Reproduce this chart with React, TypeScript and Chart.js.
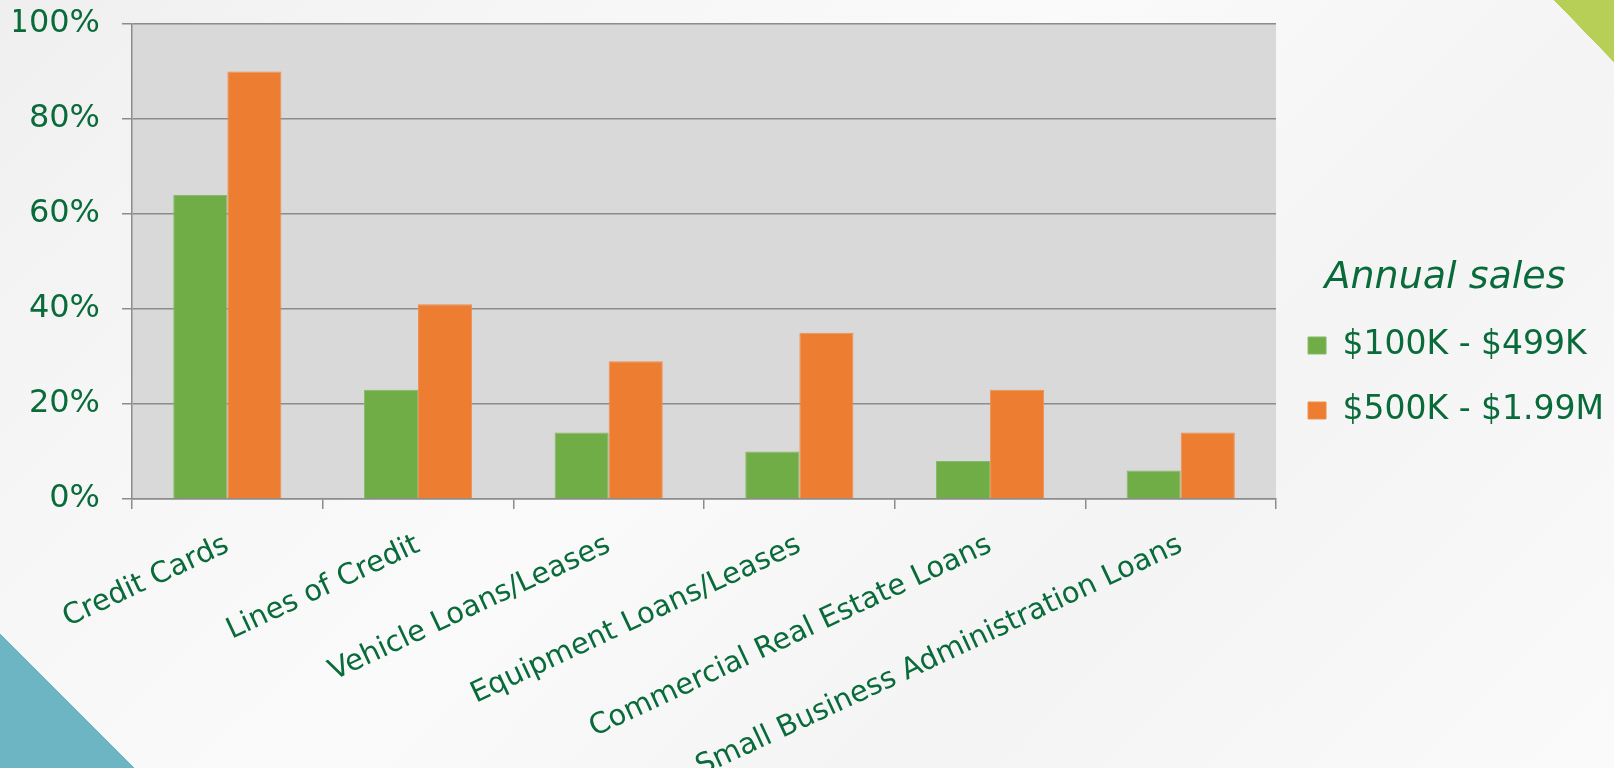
import React, { useEffect, useRef } from "react";
import { Chart, registerables } from "chart.js";

Chart.register(...registerables);

const categories = [
  "Credit Cards",
  "Lines of Credit",
  "Vehicle Loans/Leases",
  "Equipment Loans/Leases",
  "Commercial Real Estate Loans",
  "Small Business Administration Loans",
];
const seriesNames = ["$100K - $499K", "$500K - $1.99M"];
const smallSales = [64, 23, 14, 10, 8, 6];
const largeSales = [90, 41, 29, 35, 23, 14];
const yTicks = [0, 20, 40, 60, 80, 100];
const legendTitle = "Annual sales";

const TEXT = "#0a6b3a";
const GRID = "#8c8c8c";
const FONT = "'DejaVu Sans', Verdana, sans-serif";

const plotBg = {
  id: "plotBg",
  beforeDraw(chart: any) {
    const { ctx, chartArea } = chart;
    if (!chartArea) return;
    ctx.save();
    ctx.fillStyle = "#d9d9d9";
    ctx.fillRect(chartArea.left, chartArea.top, chartArea.right - chartArea.left, chartArea.bottom - chartArea.top);
    ctx.restore();
  },
};

export default function App() {
  const ref = useRef<HTMLCanvasElement | null>(null);
  useEffect(() => {
    document.body.style.margin = "0";
    const canvas = ref.current;
    if (!canvas) return;
    const chart = new Chart(canvas, {
      type: "bar",
      data: {
        labels: categories,
        datasets: [
          {
            label: seriesNames[0],
            data: smallSales,
            backgroundColor: "#70ad47",
            borderColor: "#86b968",
            borderWidth: 1,
          },
          {
            label: seriesNames[1],
            data: largeSales,
            backgroundColor: "#ed7d31",
            borderColor: "#f08f50",
            borderWidth: 1,
          },
        ],
      },
      options: {
        animation: false,
        responsive: false,
        devicePixelRatio: 1,
        layout: { padding: { top: 24, left: 14, right: 0, bottom: 0 } },
        datasets: { bar: { categoryPercentage: 0.5675, barPercentage: 1 } },
        scales: {
          x: {
            grid: { drawOnChartArea: false, drawTicks: true, tickLength: 10, color: GRID, lineWidth: 1.5 },
            border: { display: true, color: GRID, width: 1.5 },
            ticks: {
              autoSkip: false,
              minRotation: 25,
              maxRotation: 25,
              padding: 19,
              color: TEXT,
              font: { family: FONT, size: 29 },
            },
            afterFit: (scale: any) => {
              scale.height = 269;
            },
          },
          y: {
            min: 0,
            max: 100,
            afterBuildTicks: (scale: any) => {
              scale.ticks = yTicks.map((v) => ({ value: v }));
            },
            grid: { drawTicks: true, tickLength: 10, color: GRID, lineWidth: 1.5 },
            border: { display: true, color: GRID, width: 1.5 },
            ticks: {
              padding: 22,
              color: TEXT,
              font: { family: FONT, size: 32 },
              callback: (v: any) => v + "%",
            },
            afterFit: (scale: any) => {
              scale.width = 118;
              scale.paddingTop = 0;
              scale.paddingBottom = 0;
            },
          },
        },
        plugins: {
          tooltip: { enabled: false },
          legend: {
            position: "right",
            align: "start",
            title: {
              display: true,
              text: legendTitle,
              color: TEXT,
              font: { family: FONT, size: 38, style: "italic", lineHeight: 1 },
              padding: { top: 235, bottom: 0 },
            },
            labels: {
              boxWidth: 18,
              boxHeight: 17,
              padding: 32,
              color: TEXT,
              font: { family: FONT, size: 33 },
            },
          },
        },
      } as any,
      plugins: [plotBg],
    });
    return () => chart.destroy();
  }, []);

  return (
    <div
      style={{
        width: 1614,
        height: 768,
        position: "relative",
        overflow: "hidden",
        background:
          "linear-gradient(to top right, #6eb5c4 50%, rgba(0,0,0,0) 50.4%) left bottom / 134px 134px no-repeat, " +
          "linear-gradient(to bottom left, #b8cf57 50%, rgba(0,0,0,0) 50.4%) right top / 60px 62px no-repeat, " +
          "linear-gradient(135deg, #efefef 0%, #f6f6f6 22%, #fafafa 45%, #f4f4f4 70%, #fafafa 100%)",
      }}
    >
      <canvas ref={ref} width={1614} height={768} style={{ display: "block" }} />
    </div>
  );
}
